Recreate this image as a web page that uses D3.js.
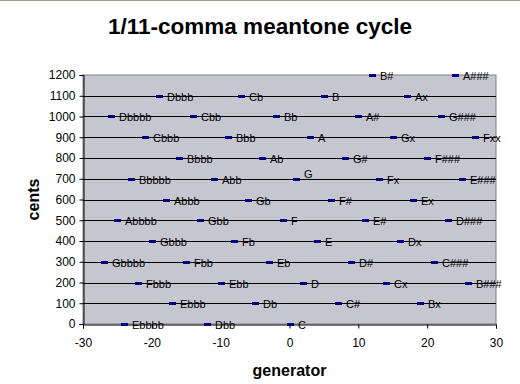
<!DOCTYPE html>
<html>
<head>
<meta charset="utf-8">
<script src="https://cdn.jsdelivr.net/npm/d3@7"></script>
<style>
  body { margin: 0; background: #fff; }
  svg { display: block; font-family: "Liberation Sans", Arial, sans-serif; }
</style>
</head>
<body>
<div class="js-chart"></div>
<script>
// circle of fifths, generator steps -27..27
var generators = [-27, -26, -25, -24, -23, -22, -21, -20, -19, -18, -17, -16, -15, -14,
  -13, -12, -11, -10, -9, -8, -7, -6, -5, -4, -3, -2, -1, 0, 1, 2, 3, 4, 5, 6, 7, 8, 9,
  10, 11, 12, 13, 14, 15, 16, 17, 18, 19, 20, 21, 22, 23, 24, 25, 26, 27];
var noteNames = ['Gbbbb', 'Dbbbb', 'Abbbb', 'Ebbbb', 'Bbbbb', 'Fbbb', 'Cbbb', 'Gbbb', 'Dbbb',
  'Abbb', 'Ebbb', 'Bbbb', 'Fbb', 'Cbb', 'Gbb', 'Dbb', 'Abb', 'Ebb', 'Bbb', 'Fb', 'Cb', 'Gb',
  'Db', 'Ab', 'Eb', 'Bb', 'F', 'C', 'G', 'D', 'A', 'E', 'B', 'F#', 'C#', 'G#', 'D#', 'A#',
  'E#', 'B#', 'Fx', 'Cx', 'Gx', 'Dx', 'Ax', 'Ex', 'Bx', 'F###', 'C###', 'G###', 'D###',
  'A###', 'E###', 'B###', 'Fxx'];
var cents = [300, 1000, 500, 0, 700, 200, 900, 400, 1100, 600, 100, 800, 300, 1000,
  500, 0, 700, 200, 900, 400, 1100, 600, 100, 800, 300, 1000, 500, 0, 700, 200, 900, 400,
  1100, 600, 100, 800, 300, 1000, 500, 1200, 700, 200, 900, 400, 1100, 600, 100, 800, 300,
  1000, 500, 1200, 700, 200, 900];
var xTicks = [-30, -20, -10, 0, 10, 20, 30];
var yTicks = [0, 100, 200, 300, 400, 500, 600, 700, 800, 900, 1000, 1100, 1200];

var width = 520;
var height = 384;
var margin = { top: 75, right: 24, bottom: 60, left: 83 };

var points = generators.map((g, i) => ({ g: g, c: cents[i], name: noteNames[i] }));

var svg = d3.select('.js-chart')
  .append('svg')
  .attr('width', width)
  .attr('height', height);

var x = d3.scaleLinear().domain([-30, 30]).range([margin.left, width - margin.right]);
var y = d3.scaleLinear().domain([0, 1200]).range([height - margin.bottom, margin.top]);

// frame line of the screenshot
svg.append('line').attr('x1', 0).attr('x2', width).attr('y1', 0.5).attr('y2', 0.5)
  .attr('stroke', '#a09c94');

// plot area
svg.append('rect')
  .attr('x', x(-30)).attr('y', y(1200))
  .attr('width', x(30) - x(-30)).attr('height', y(0) - y(1200))
  .attr('fill', '#c6c6d0')
  .attr('stroke', '#808080');

// gridlines
svg.append('g')
  .selectAll('line')
  .data(yTicks.filter(d => d > 0 && d < 1200))
  .enter()
  .append('line')
  .attr('x1', x(-30)).attr('x2', x(30))
  .attr('y1', d => Math.round(y(d)) + 0.5).attr('y2', d => Math.round(y(d)) + 0.5)
  .attr('stroke', '#000');

// axes (plain hyphen for negatives, like the original)
var fmt = d => String(d);
var yAxis = svg.append('g')
  .attr('transform', `translate(${Math.round(x(-30)) + 0.5},0)`)
  .call(d3.axisLeft(y).tickValues(yTicks).tickSize(4).tickPadding(4).tickFormat(fmt));
var xAxis = svg.append('g')
  .attr('transform', `translate(0,${Math.round(y(0)) + 0.5})`)
  .call(d3.axisBottom(x).tickValues(xTicks).tickSize(4).tickPadding(8).tickFormat(fmt));

[yAxis, xAxis].forEach(a => {
  a.select('.domain').attr('stroke', '#000');
  a.selectAll('.tick line').attr('stroke', '#000');
  a.selectAll('.tick text')
    .attr('fill', '#000')
    .style('font-size', '12px')
    .style('font-family', '"Liberation Sans", Arial, sans-serif');
});
xAxis.selectAll('.tick text').attr('dy', '0.9em');

// markers
svg.append('g')
  .selectAll('rect')
  .data(points)
  .enter()
  .append('rect')
  .attr('x', d => Math.round(x(d.g)) - 3)
  .attr('y', d => Math.round(y(d.c)) - 1)
  .attr('width', 7)
  .attr('height', 3)
  .attr('fill', '#000080');

// labels
svg.append('g')
  .selectAll('text')
  .data(points)
  .enter()
  .append('text')
  .attr('x', d => Math.round(x(d.g)) + 8)
  .attr('y', d => Math.round(y(d.c)) + (d.name === 'G' ? -5 : 1))
  .attr('dy', '0.35em')
  .style('font-size', '11px')
  .attr('fill', '#000')
  .text(d => d.name);

// titles
svg.append('text')
  .attr('x', 260).attr('y', 34)
  .attr('text-anchor', 'middle')
  .style('font-size', '22.5px').style('font-weight', 'bold')
  .text('1/11-comma meantone cycle');

svg.append('text')
  .attr('x', x(0)).attr('y', 376)
  .attr('text-anchor', 'middle')
  .style('font-size', '16px').style('font-weight', 'bold')
  .text('generator');

svg.append('text')
  .attr('transform', `translate(39,${(y(0) + y(1200)) / 2})rotate(-90)`)
  .attr('text-anchor', 'middle')
  .style('font-size', '16px').style('font-weight', 'bold')
  .text('cents');
</script>
</body>
</html>
